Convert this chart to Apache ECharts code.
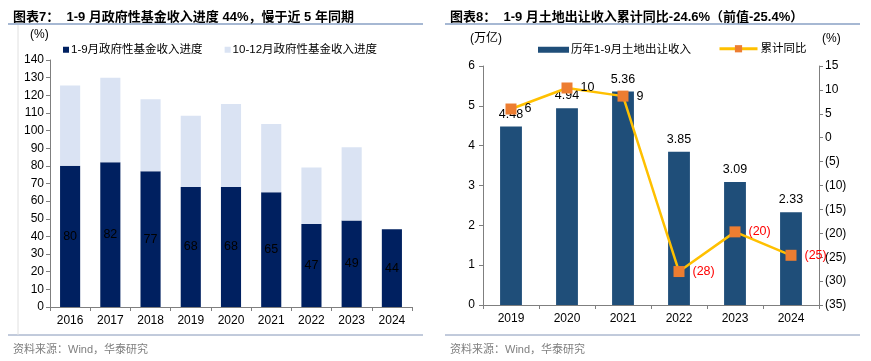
<!DOCTYPE html>
<html><head><meta charset="utf-8">
<script src="https://cdn.jsdelivr.net/npm/echarts@6/dist/echarts.min.js"></script>
<style>html,body{margin:0;padding:0;background:#fff}#c{width:871px;height:361px}</style>
</head><body><div id="c"></div>
<script>
// Chart 7 data
const years7 = ['2016','2017','2018','2019','2020','2021','2022','2023','2024'];
const jan2sep = [80, 82, 77, 68, 68, 65, 47, 49, 44];
const oct2dec = [45.5, 48, 40.7, 40.4, 47, 38.7, 32, 41.5, null];
// Chart 8 data
const years8 = ['2019','2020','2021','2022','2023','2024'];
const landIncome = [4.48, 4.94, 5.36, 3.85, 3.09, 2.33];
const landYoY = [6.0, 10.4, 8.7, -28.0, -19.7, -24.6];

const FONT = '"Liberation Sans", Arial, "Noto Sans CJK SC", sans-serif';
const CJK = '"Liberation Sans", "Noto Sans CJK SC", sans-serif';
const axisCol = '#7f7f7f';
const fmtPct = v => v < 0 ? '(' + (-v) + ')' : String(v);

const chart = echarts.init(document.getElementById('c'), null, {renderer: 'canvas'});
chart.setOption({
  animation: false,
  textStyle: {fontFamily: FONT},
  title: [
    {text: '图表7：  1-9 月政府性基金收入进度 44%，慢于近 5 年同期', left: 8, top: 6,
     textStyle: {fontSize: 13, fontWeight: 'bold', color: '#000', fontFamily: CJK}},
    {text: '图表8：  1-9 月土地出让收入累计同比-24.6%（前值-25.4%）', left: 445, top: 6,
     textStyle: {fontSize: 13, fontWeight: 'bold', color: '#000', fontFamily: CJK}},
    {text: '资料来源：Wind，华泰研究', left: 8, top: 339, textStyle: {fontSize: 11, fontWeight: 'normal', color: '#7f7f7f', fontFamily: CJK}},
    {text: '资料来源：Wind，华泰研究', left: 445, top: 339, textStyle: {fontSize: 11, fontWeight: 'normal', color: '#7f7f7f', fontFamily: CJK}}
  ],
  graphic: [
    {type: 'line', shape: {x1: 8, y1: 24, x2: 423, y2: 24}, style: {stroke: '#4f72a8', lineWidth: 1.2}},
    {type: 'line', shape: {x1: 445, y1: 24, x2: 860, y2: 24}, style: {stroke: '#4f72a8', lineWidth: 1.2}},
    {type: 'line', shape: {x1: 8, y1: 335, x2: 423, y2: 335}, style: {stroke: '#8496b8', lineWidth: 1}},
    {type: 'line', shape: {x1: 445, y1: 335, x2: 860, y2: 335}, style: {stroke: '#8496b8', lineWidth: 1}},
    {type: 'line', shape: {x1: 18, y1: 25, x2: 18, y2: 335}, style: {stroke: '#e0e0e0', lineWidth: 1}},
    {type: 'text', left: 30, top: 29, style: {text: '(%)', font: '12px ' + FONT, fill: '#000'}},
    {type: 'text', left: 470, top: 33, style: {text: '(万亿)', font: '12px ' + CJK, fill: '#000'}},
    {type: 'text', left: 822, top: 33, style: {text: '(%)', font: '12px ' + FONT, fill: '#000'}}
  ],
  legend: [
    {left: 58, top: 39, itemWidth: 6, itemHeight: 6, itemGap: 22, icon: 'rect',
     textStyle: {fontSize: 11.5, fontFamily: CJK, color: '#000', padding: [0,0,0,-3]},
     data: ['1-9月政府性基金收入进度', '10-12月政府性基金收入进度']},
    {left: 533, top: 39, itemWidth: 31, itemHeight: 6,
     textStyle: {fontSize: 11.5, fontFamily: CJK, color: '#000', padding: [0,0,0,-3]},
     data: [{name: '历年1-9月土地出让收入', icon: 'rect'}]},
    {left: 713, top: 38, itemWidth: 38, itemHeight: 9,
     textStyle: {fontSize: 11.5, fontFamily: CJK, color: '#000', padding: [0,0,0,-2]},
     lineStyle: {width: 3},
     data: [{name: '累计同比'}]}
  ],
  grid: [
    {left: 50, right: 459, top: 60, bottom: 54},
    {left: 483, right: 52, top: 66, bottom: 56}
  ],
  xAxis: [
    {type: 'category', gridIndex: 0, data: years7,
     axisLine: {lineStyle: {color: axisCol}}, axisTick: {show: true, length: 4, lineStyle: {color: axisCol}},
     axisLabel: {fontSize: 12, color: '#000', margin: 8}},
    {type: 'category', gridIndex: 1, data: years8,
     axisLine: {lineStyle: {color: axisCol}}, axisTick: {show: true, length: 4, lineStyle: {color: axisCol}},
     axisLabel: {fontSize: 12, color: '#000', margin: 8}}
  ],
  yAxis: [
    {type: 'value', gridIndex: 0, min: 0, max: 140, interval: 10,
     axisLine: {show: true, lineStyle: {color: axisCol}}, axisTick: {show: true, length: 4, lineStyle: {color: axisCol}},
     splitLine: {show: false}, axisLabel: {fontSize: 12, color: '#000', margin: 6}},
    {type: 'value', gridIndex: 1, min: 0, max: 6, interval: 1,
     axisLine: {show: true, lineStyle: {color: axisCol}}, axisTick: {show: true, length: 4, lineStyle: {color: axisCol}},
     splitLine: {show: false}, axisLabel: {fontSize: 12, color: '#000', margin: 8}},
    {type: 'value', gridIndex: 1, position: 'right', min: -35, max: 15, interval: 5,
     axisLine: {show: true, lineStyle: {color: axisCol}}, axisTick: {show: true, length: 4, lineStyle: {color: axisCol}},
     splitLine: {show: false}, axisLabel: {fontSize: 12, color: '#000', margin: 6, formatter: fmtPct}}
  ],
  series: [
    {name: '1-9月政府性基金收入进度', type: 'bar', stack: 'a', xAxisIndex: 0, yAxisIndex: 0,
     data: jan2sep, barWidth: '50%', itemStyle: {color: '#002060'},
     label: {show: true, position: 'inside', color: '#000', fontSize: 12.5}},
    {name: '10-12月政府性基金收入进度', type: 'bar', stack: 'a', xAxisIndex: 0, yAxisIndex: 0,
     data: oct2dec, barWidth: '50%', itemStyle: {color: '#dae3f3'}},
    {name: '历年1-9月土地出让收入', type: 'bar', xAxisIndex: 1, yAxisIndex: 1,
     data: landIncome, barWidth: '39%', itemStyle: {color: '#1f4e79'},
     label: {show: true, position: 'top', distance: 6, color: '#000', fontSize: 12.5,
             formatter: p => p.value.toFixed(2)}},
    {name: '累计同比', type: 'line', xAxisIndex: 1, yAxisIndex: 2,
     data: landYoY, symbol: 'rect', symbolSize: 11,
     lineStyle: {color: '#ffc000', width: 2.5}, itemStyle: {color: '#ed7d31'},
     label: {show: true, position: 'right', distance: 8, fontSize: 12.5,
       formatter: p => { const r = Math.round(p.value); return r < 0 ? '{n|(' + (-r) + ')}' : '{p|' + r + '}'; },
       rich: {n: {color: '#ff0000', fontSize: 12.5}, p: {color: '#000', fontSize: 12.5}}}}
  ]
});
</script></body></html>
